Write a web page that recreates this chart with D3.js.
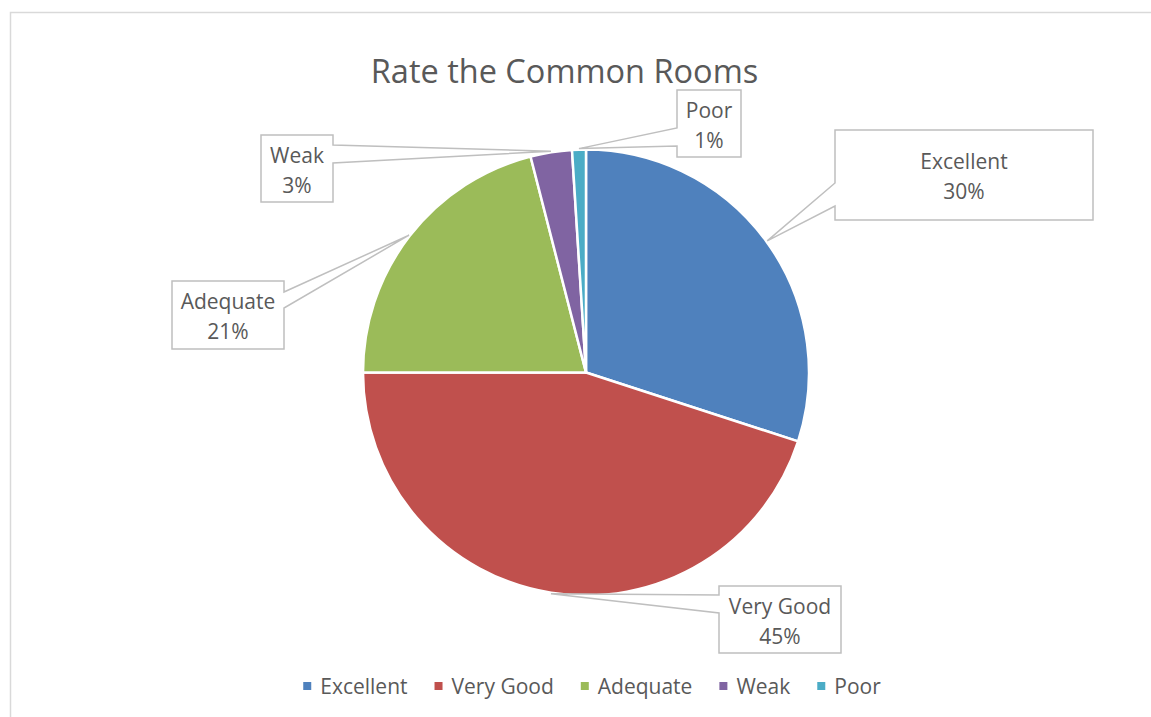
<!DOCTYPE html>
<html>
<head>
<meta charset="utf-8">
<script src="https://cdn.jsdelivr.net/npm/d3@7"></script>
<style>
  html, body { margin: 0; padding: 0; background: #ffffff; }
  svg { display: block; }
  text { font-family: "Open Sans", "Liberation Sans", sans-serif; fill: #595959; }
</style>
</head>
<body>
<svg id="chart" width="1151" height="717"></svg>
<script>
// Survey answers for the common rooms, in percent
const categories = ["Excellent", "Very Good", "Adequate", "Weak", "Poor"];
const shares = [30, 45, 21, 3, 1];
const sliceColors = ["#4F81BD", "#C0504D", "#9BBB59", "#8064A2", "#4BACC6"];
const chartTitle = "Rate the Common Rooms";

// Where each data-label callout box sits and which side its pointer leaves from
const calloutLayout = {
  "Excellent": { x: 835, y: 130, w: 258, h: 90, side: "left",  b1: 183, b2: 206 },
  "Very Good": { x: 719, y: 586, w: 122, h: 67, side: "left",  b1: 595, b2: 613 },
  "Adequate":  { x: 172, y: 281, w: 112, h: 68, side: "right", b1: 292, b2: 308 },
  "Weak":      { x: 261, y: 135, w: 72,  h: 67, side: "right", b1: 145, b2: 163 },
  "Poor":      { x: 677, y: 90,  w: 64,  h: 67, side: "left",  b1: 128, b2: 146 }
};

const svg = d3.select("#chart");

// Chart area frame (runs off the right and bottom edges)
svg.append("rect")
  .attr("x", 10.5).attr("y", 12.5)
  .attr("width", 1300).attr("height", 900)
  .attr("fill", "#ffffff")
  .attr("stroke", "#D9D9D9").attr("stroke-width", 1.5);

// Title
svg.append("text")
  .attr("x", 564.5).attr("y", 83)
  .attr("text-anchor", "middle")
  .style("font-size", "32.5px")
  .text(chartTitle);

// Pie
const cx = 586, cy = 372.5, radius = 223;
const color = d3.scaleOrdinal().domain(categories).range(sliceColors);
const data = categories.map((c, i) => ({ category: c, value: shares[i] }));
const total = d3.sum(shares);

const pie = d3.pie().sort(null).value(d => d.value).startAngle(0).endAngle(2 * Math.PI);
const arcs = pie(data);
const arc = d3.arc().innerRadius(0).outerRadius(radius);

const pieG = svg.append("g").attr("transform", `translate(${cx},${cy})`);
pieG.selectAll("path.slice")
  .data(arcs)
  .join("path")
  .attr("class", "slice")
  .attr("d", arc)
  .attr("fill", d => color(d.data.category))
  .attr("stroke", "#ffffff")
  .attr("stroke-width", 2.5)
  .attr("stroke-linejoin", "round");

// Callouts: a box with a tapered pointer to the middle of its slice's rim
function calloutPath(box, tip) {
  const { x, y, w, h, side, b1, b2 } = box;
  const p = d3.path();
  if (side === "left") {
    p.moveTo(x, y);
    p.lineTo(x + w, y);
    p.lineTo(x + w, y + h);
    p.lineTo(x, y + h);
    p.lineTo(x, b2);
    p.lineTo(tip[0], tip[1]);
    p.lineTo(x, b1);
    p.closePath();
  } else {
    p.moveTo(x, y);
    p.lineTo(x + w, y);
    p.lineTo(x + w, b1);
    p.lineTo(tip[0], tip[1]);
    p.lineTo(x + w, b2);
    p.lineTo(x + w, y + h);
    p.lineTo(x, y + h);
    p.closePath();
  }
  return p.toString();
}

const pct = v => Math.round(v / total * 100) + "%";

const callouts = svg.append("g").selectAll("g.callout")
  .data(arcs)
  .join("g")
  .attr("class", "callout");

callouts.append("path")
  .attr("d", d => {
    const mid = (d.startAngle + d.endAngle) / 2;
    const tip = [cx + (radius + 1) * Math.sin(mid), cy - (radius + 1) * Math.cos(mid)];
    return calloutPath(calloutLayout[d.data.category], tip);
  })
  .attr("fill", "#ffffff")
  .attr("stroke", "#BFBFBF")
  .attr("stroke-width", 1.5)
  .attr("stroke-linejoin", "miter");

callouts.each(function(d) {
  const b = calloutLayout[d.data.category];
  const mx = b.x + b.w / 2, my = b.y + b.h / 2;
  const g = d3.select(this);
  g.append("text")
    .attr("x", mx).attr("y", my - 6)
    .attr("text-anchor", "middle")
    .style("font-size", "21px")
    .text(d.data.category);
  g.append("text")
    .attr("x", mx).attr("y", my + 24)
    .attr("text-anchor", "middle")
    .style("font-size", "21px")
    .text(pct(d.data.value));
});

// Legend, centred under the pie
const legend = svg.append("g");
const items = legend.selectAll("g.item")
  .data(categories)
  .join("g")
  .attr("class", "item");
items.append("rect")
  .attr("width", 8).attr("height", 8)
  .attr("y", 682)
  .attr("fill", d => color(d));
items.append("text")
  .attr("y", 693.5)
  .style("font-size", "21px")
  .text(d => d);

let cursor = 0;
const offsets = [];
items.each(function() {
  const tw = d3.select(this).select("text").node().getComputedTextLength();
  offsets.push(cursor);
  cursor += 17 + tw + 27;
});
const legendWidth = cursor - 27;
const legendStart = 592 - legendWidth / 2;
items.each(function(d, i) {
  const g = d3.select(this);
  g.select("rect").attr("x", legendStart + offsets[i]);
  g.select("text").attr("x", legendStart + offsets[i] + 17);
});
</script>
</body>
</html>
